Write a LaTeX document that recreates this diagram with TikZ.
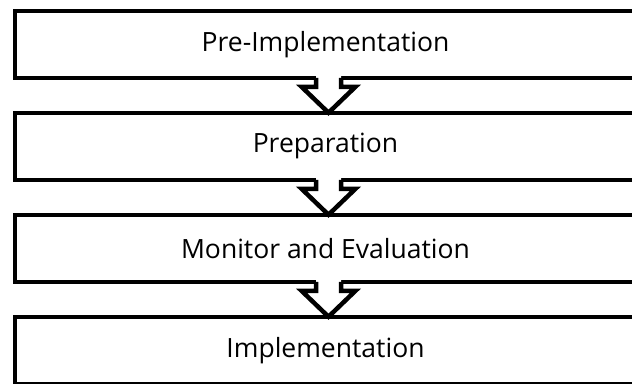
\documentclass[tikz,border=0pt]{standalone}
\usepackage{fontspec}
\setmainfont{Open Sans}
\usepackage{tikz}
\usetikzlibrary{positioning,calc}

\begin{document}
\begin{tikzpicture}[
    stagebox/.style={draw, line width=4.5pt, rectangle, inner sep=0pt, outer sep=0pt,
      minimum width=621pt, minimum height=67pt,
      font=\fontsize{26.5}{30}\selectfont},
    blockarrow/.style={line width=4.5pt}
  ]
  \useasboundingbox (0,-383pt) rectangle (632pt,0pt);
  % the four stages
  \node[stagebox] (pre) at (325.5pt,-44.25pt) {Pre-Implementation};
  \node[stagebox, below=35pt of pre] (prep) {Preparation};
  \node[stagebox, below=35pt of prep] (mon) {Monitor and Evaluation};
  \node[stagebox, below=35pt of mon] (imp) {Implementation};
  % block arrows between stages
  \foreach \a/\b in {pre/prep, prep/mon, mon/imp}{
    \fill[white] ($(\a.south)+(-9.5pt,3pt)$) -- ($(\a.south)+(-9.5pt,-9pt)$)
      -- ($(\a.south)+(-24pt,-9pt)$) -- ($(\b.north)+(3pt,0pt)$) -- ($(\a.south)+(30pt,-9pt)$)
      -- ($(\a.south)+(15.5pt,-9pt)$) -- ($(\a.south)+(15.5pt,3pt)$) -- cycle;
    \draw[blockarrow] ($(\a.south)+(-9.5pt,0pt)$) -- ($(\a.south)+(-9.5pt,-9pt)$)
      -- ($(\a.south)+(-24pt,-9pt)$) -- ($(\b.north)+(3pt,0pt)$) -- ($(\a.south)+(30pt,-9pt)$)
      -- ($(\a.south)+(15.5pt,-9pt)$) -- ($(\a.south)+(15.5pt,0pt)$);
  }
\end{tikzpicture}
\end{document}
